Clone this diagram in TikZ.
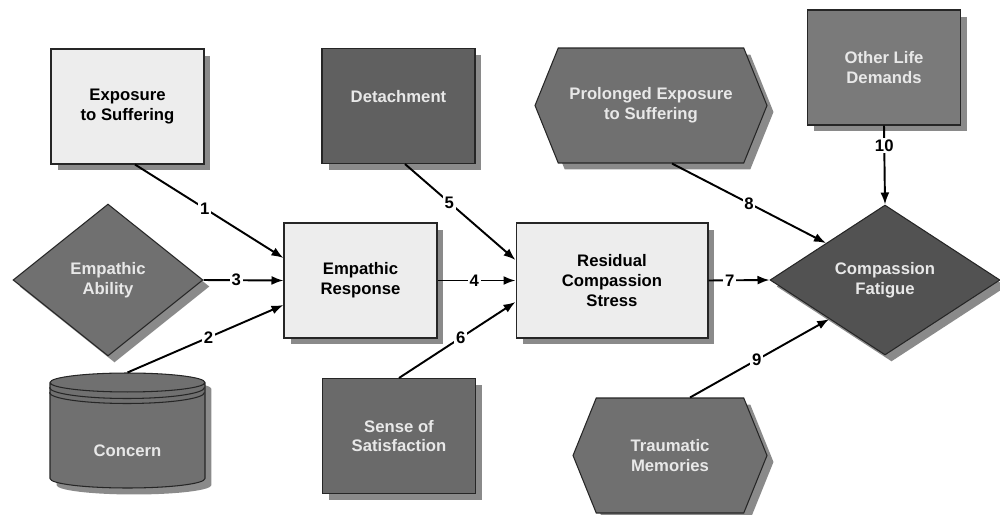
\documentclass[tikz,border=0pt]{standalone}
\usepackage{fontspec}
\setmainfont{Liberation Sans}
\usetikzlibrary{positioning,shapes.geometric,shapes.symbols,shadows,arrows.meta}
\definecolor{cpale}{RGB}{237,237,237}
\definecolor{cshadow}{RGB}{138,138,138}
\definecolor{cline}{RGB}{38,38,38}
\definecolor{ctext}{RGB}{232,232,232}
\definecolor{cmid}{RGB}{112,112,112}
\definecolor{cdetach}{RGB}{96,96,96}
\definecolor{csense}{RGB}{106,106,106}
\definecolor{cother}{RGB}{122,122,122}
\definecolor{cfatigue}{RGB}{82,82,82}

\begin{document}
\begin{tikzpicture}[x=0.02cm, y=-0.02cm,
    >={Latex[length=0.24cm,width=0.18cm]},
    dshadow/.style={drop shadow={shadow xshift=0.13cm, shadow yshift=-0.13cm,
                    fill=cshadow, opacity=1}},
    every node/.style={font=\fontsize{9.5}{11.3}\selectfont\bfseries, align=center},
    box/.style={draw=cline, line width=0.6pt, dshadow, inner sep=0pt,
                minimum width=3.06cm, minimum height=2.3cm},
    pale/.style={box, fill=cpale, text=black},
    dark/.style={box, fill=cmid, text=ctext},
    dia/.style={diamond, draw=cline, line width=0.6pt, dshadow, inner sep=0pt,
                text=ctext},
    hexa/.style={signal, signal to=east and west, signal pointer angle=136,
                 draw=cline, line width=0.6pt, dshadow, inner sep=0pt,
                 fill=cmid, text=ctext, minimum height=2.3cm},
    arrow/.style={->, line width=1.1pt, color=black},
    num/.style={fill=white, inner sep=1pt},
  ]
  \useasboundingbox (0,0) rectangle (1000,514);

  % Sources
  \node[pale] (expo) at (127.5,106.5) {Exposure\\to Suffering};
  \node[dia, fill=cmid, minimum width=3.8cm, minimum height=3.04cm]
    (ability) at (108,280) {Empathic\\Ability};
  \node[cylinder, shape border rotate=90, aspect=0.28, draw=cline, line width=0.6pt,
        dshadow, fill=cmid, text=ctext, inner sep=0pt,
        minimum width=3.1cm, minimum height=2.3cm,
        text height=0.87cm, text depth=0.05cm]
    (concern) at (127.5,435.5) {Concern};
  \draw[cline, line width=0.6pt] ([yshift=-0.1cm]concern.before top)
    arc[start angle=180, end angle=360, x radius=1.55cm, y radius=0.22cm];
  \draw[cline, line width=0.6pt] ([yshift=-0.2cm]concern.before top)
    arc[start angle=180, end angle=360, x radius=1.55cm, y radius=0.22cm];

  % Middle
  \node[pale] (empresp) at (360.5,280.5) {Empathic\\Response};
  \node[dark, fill=cdetach] (detach) at (398.5,106) {Detachment\\~};
  \node[dark, fill=csense] (sense) at (399,436) {Sense of\\Satisfaction};
  \node[pale, minimum width=3.84cm] (resid) at (612,280.5)
    {Residual\\Compassion\\Stress};

  % Right
  \node[hexa, minimum width=4.64cm] (prolong) at (651,105.5)
    {Prolonged Exposure\\to Suffering};
  \node[hexa, minimum width=3.88cm] (trauma) at (670,455.5) {Traumatic\\Memories};
  \node[dark, fill=cother] (other) at (884,67.5) {Other Life\\Demands};
  \node[dia, fill=cfatigue, minimum width=4.6cm, minimum height=3.0cm]
    (fatigue) at (885,280) {Compassion\\Fatigue};

  % Arrows
  \draw[arrow] ([xshift=0.15cm]expo.south) -- node[num, pos=0.47] {1}
    ([yshift=0.45cm]empresp.west);
  \draw[arrow] (concern.top) -- node[num, pos=0.52] {2}
    ([yshift=-0.49cm]empresp.west);
  \draw[arrow] (ability.east) -- node[num, pos=0.41] {3} (empresp.west);
  \draw[arrow] (empresp.east) -- node[num, pos=0.47] {4} (resid.west);
  \draw[arrow] ([xshift=0.13cm]detach.south) -- node[num, pos=0.4] {5}
    ([yshift=0.41cm]resid.west);
  \draw[arrow] (sense.north) -- node[num, pos=0.53] {6}
    ([yshift=-0.43cm]resid.west);
  \draw[arrow] (resid.east) -- node[num, pos=0.35] {7} (fatigue.west);
  \draw[arrow] ([xshift=0.42cm]prolong.south) -- node[num, pos=0.5] {8}
    (fatigue.148);
  \draw[arrow] ([xshift=0.4cm]trauma.north) -- node[num, pos=0.48] {9}
    (fatigue.215);
  \draw[arrow] (other.south) -- node[num, pos=0.25] {10} (fatigue.north);
\end{tikzpicture}
\end{document}
